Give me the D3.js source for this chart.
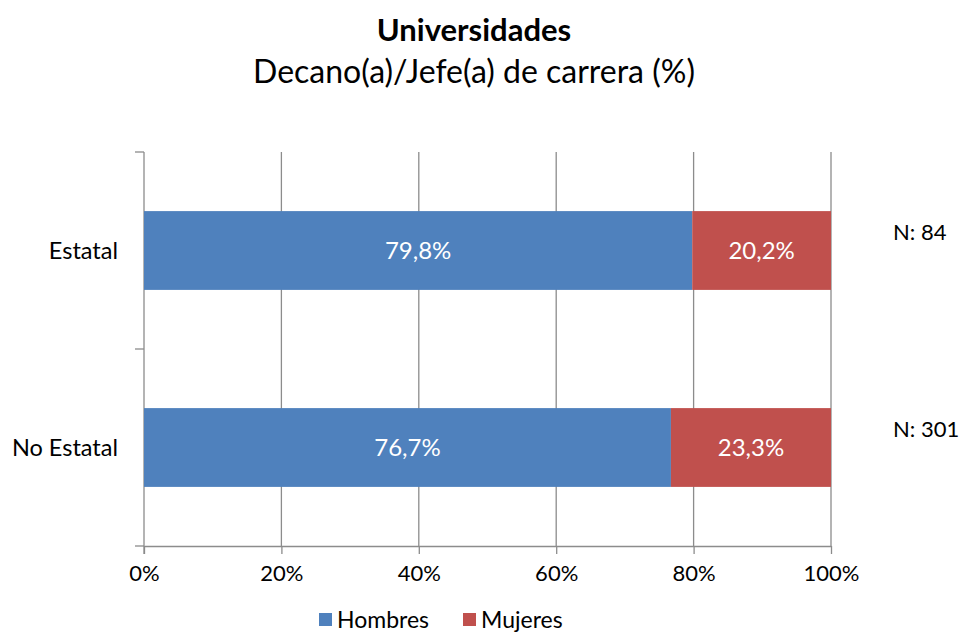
<!DOCTYPE html>
<html><head><meta charset="utf-8">
<script src="https://cdn.jsdelivr.net/npm/d3@7"></script>
<style>body{margin:0;background:#fff}svg{display:block}text{font-family:Lato,"Open Sans",sans-serif}</style>
</head><body>
<svg id="c" width="965" height="634"></svg>
<script>
const categories = ["Estatal", "No Estatal"];
const hombres = [79.8, 76.7];
const mujeres = [20.2, 23.3];
const nLabels = ["N: 84", "N: 301"];
const seriesNames = ["Hombres", "Mujeres"];
const seriesColors = ["#4F81BD", "#C0504D"];
const xTicks = [0, 20, 40, 60, 80, 100];

const svg = d3.select("#c");
const m = {l: 144, r: 831, t: 152, b: 546};
const x = d3.scaleLinear().domain([0, 100]).range([m.l, m.r]);
const y = d3.scaleBand().domain(categories).range([m.t, m.b]).paddingInner(0.6).paddingOuter(0.3);

// gridlines
svg.append("g").selectAll("line").data(xTicks.slice(1)).join("line")
  .attr("x1", d => x(d)).attr("x2", d => x(d)).attr("y1", m.t).attr("y2", m.b)
  .attr("stroke", "#8c8c8c").attr("stroke-width", 1.3);

// x axis
const xa = svg.append("g").attr("transform", `translate(0,${m.b})`)
  .call(d3.axisBottom(x).tickValues(xTicks).tickFormat(d => d + "%").tickSize(8).tickSizeOuter(0));
xa.select(".domain").attr("stroke", "#8c8c8c").attr("stroke-width", 1.3);
xa.selectAll(".tick line").attr("stroke", "#8c8c8c").attr("stroke-width", 1.3);
xa.selectAll("text").attr("font-size", 22).attr("fill", "#000").attr("dy", "1.1em");

// y axis
const bounds = [m.t, (m.t + m.b) / 2, m.b];
svg.append("line").attr("x1", m.l).attr("x2", m.l).attr("y1", m.t).attr("y2", m.b + 8)
  .attr("stroke", "#8c8c8c").attr("stroke-width", 1.3);
svg.append("g").selectAll("line").data(bounds).join("line")
  .attr("x1", m.l - 9).attr("x2", m.l).attr("y1", d => d).attr("y2", d => d)
  .attr("stroke", "#8c8c8c").attr("stroke-width", 1.3);
svg.append("g").selectAll("text").data(categories).join("text")
  .attr("x", 118).attr("y", d => y(d) + y.bandwidth() / 2).attr("dy", "0.35em")
  .attr("text-anchor", "end").attr("font-size", 23.5).attr("fill", "#000").text(d => d);

// bars
const rows = categories.map((c, i) => ({c, h: hombres[i], m: mujeres[i], n: nLabels[i]}));
const g = svg.append("g");
rows.forEach(r => {
  const segs = [{s: 0, v: r.h, col: seriesColors[0]}, {s: r.h, v: r.m, col: seriesColors[1]}];
  segs.forEach(sg => {
    g.append("rect").attr("x", x(sg.s)).attr("y", y(r.c))
      .attr("width", x(sg.s + sg.v) - x(sg.s)).attr("height", y.bandwidth()).attr("fill", sg.col);
    g.append("text").attr("x", (x(sg.s) + x(sg.s + sg.v)) / 2).attr("y", y(r.c) + y.bandwidth() / 2)
      .attr("dy", "0.35em").attr("text-anchor", "middle").attr("font-size", 24).attr("fill", "#fff")
      .text(sg.v.toFixed(1).replace(".", ",") + "%");
  });
  svg.append("text").attr("x", 893).attr("y", y(r.c) + 21).attr("dy", "0.35em")
    .attr("font-size", 22).attr("fill", "#000").text(r.n);
});

// titles
svg.append("text").attr("x", 474).attr("y", 41).attr("text-anchor", "middle")
  .attr("font-size", 31).attr("font-weight", "bold").attr("fill", "#000").text("Universidades");
svg.append("text").attr("x", 474).attr("y", 83).attr("text-anchor", "middle")
  .attr("font-size", 32).attr("fill", "#000").text("Decano(a)/Jefe(a) de carrera (%)");

// legend
const lx = [319, 463];
seriesNames.forEach((s, i) => {
  svg.append("rect").attr("x", lx[i]).attr("y", 613).attr("width", 13).attr("height", 13).attr("fill", seriesColors[i]);
  svg.append("text").attr("x", lx[i] + 18).attr("y", 628).attr("font-size", 23).attr("fill", "#000").text(s);
});
</script>
</body></html>
